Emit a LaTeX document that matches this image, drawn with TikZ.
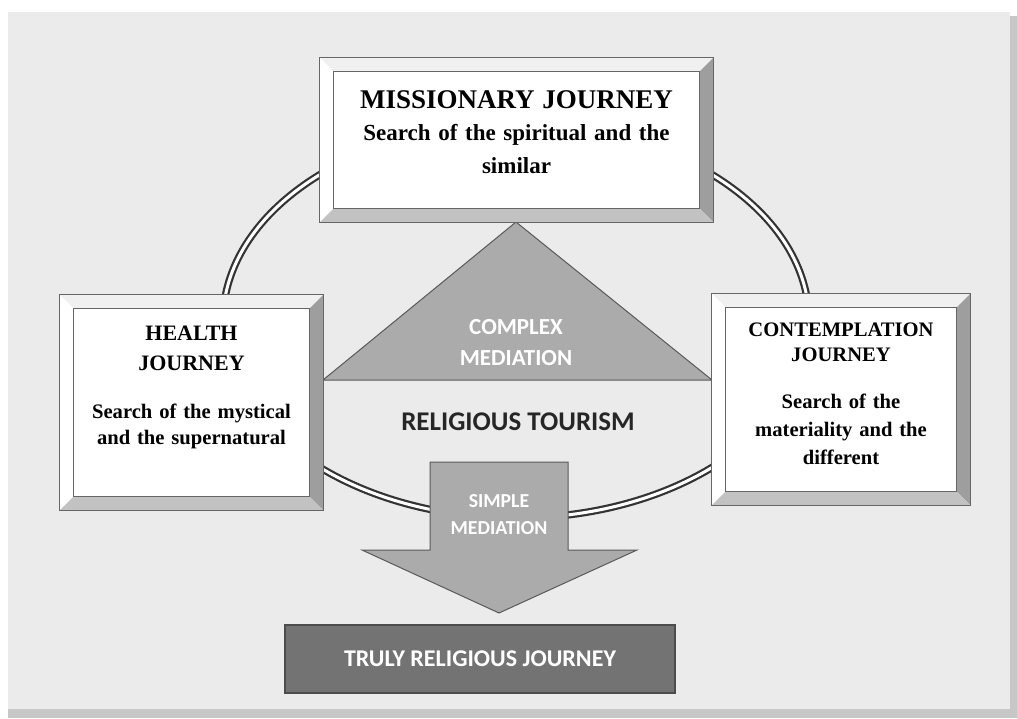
\documentclass[tikz,border=0pt]{standalone}
\usepackage{fontspec}
\setmainfont{Liberation Serif}
\newfontfamily\calib{Carlito}
\usetikzlibrary{positioning,calc}
\tikzstyle{journeybox} = [rectangle, fill=white, inner sep=0pt]
\tikzstyle{boxtext} = [align=center, inner sep=0pt, text width=180pt]
\tikzstyle{bevtop} = [fill=black!6]
\tikzstyle{bevleft} = [fill=white]
\tikzstyle{bevright} = [fill=black!38]
\tikzstyle{bevbottom} = [fill=black!24]
\tikzstyle{frameline} = [draw=black!60, line width=0.6pt]
\tikzstyle{ring} = [draw=black!80, line width=1.1pt, double=white, double distance=1.5pt]
\tikzstyle{mediation} = [fill=black!33, draw=black!65, line width=0.5pt]
\tikzstyle{medtext} = [align=center, inner sep=0pt, text=white]
\tikzstyle{trulybox} = [rectangle, minimum width=195pt, minimum height=34pt, fill=black!55, draw=black!70, line width=0.8pt, text=white, font=\calib\bfseries\fontsize{12}{14}\selectfont]
\newcommand{\bevelframe}[1]{
	\fill[bevtop] (#1.north west) -- (#1.north east) -- ([shift={(-7pt,-7pt)}]#1.north east) -- ([shift={(7pt,-7pt)}]#1.north west) -- cycle;
	\fill[bevleft] (#1.north west) -- ([shift={(7pt,-7pt)}]#1.north west) -- ([shift={(7pt,7pt)}]#1.south west) -- (#1.south west) -- cycle;
	\fill[bevright] (#1.north east) -- (#1.south east) -- ([shift={(-7pt,7pt)}]#1.south east) -- ([shift={(-7pt,-7pt)}]#1.north east) -- cycle;
	\fill[bevbottom] (#1.south west) -- (#1.south east) -- ([shift={(-7pt,7pt)}]#1.south east) -- ([shift={(7pt,7pt)}]#1.south west) -- cycle;
	\draw[frameline] ([shift={(7pt,-7pt)}]#1.north west) rectangle ([shift={(-7pt,7pt)}]#1.south east);
	\draw[frameline] (#1.north west) rectangle (#1.south east);
}
\begin{document}
\begin{tikzpicture}[x=0.5pt, y=-0.5pt]

	\useasboundingbox (0,0) rectangle (1017,718);
	\fill[white] (0,0) rectangle (1017,718);
	\fill[black!22] (8,16) rectangle (1017,718);
	\fill[black!8] (8,12) rectangle (1010,709);

	\draw[ring] (516,321) ellipse [x radius=146.5pt, y radius=98.5pt];

	\draw[mediation] (516,222) -- (712,380) -- (323,380) -- cycle;
	\node (complex)[medtext, font=\calib\bfseries\fontsize{11.5}{15.5}\selectfont] at (516,343) {COMPLEX\\MEDIATION};

	\node (tourism)[inner sep=0pt, font=\calib\bfseries\fontsize{13.5}{16}\selectfont, text=black!85] at (518,422) {RELIGIOUS TOURISM};

	\draw[mediation] (430,462) -- (568,462) -- (568,550) -- (637,550) -- (499,613) -- (362,550) -- (430,550) -- cycle;
	\node (simple)[medtext, font=\calib\bfseries\fontsize{9.9}{13.5}\selectfont] at (499,515) {SIMPLE\\MEDIATION};

	\node (truly)[trulybox] at (480,659) {TRULY RELIGIOUS JOURNEY};

	\node (miss)[journeybox, minimum width=196.5pt, minimum height=82pt] at (516.5,140) {};
	\node (health)[journeybox, minimum width=131.5pt, minimum height=107.5pt] at (191.5,402.5) {};
	\node (contemp)[journeybox, minimum width=129pt, minimum height=105.5pt] at (841,399.5) {};

	\bevelframe{miss}
	\bevelframe{health}
	\bevelframe{contemp}

	\node (misstext)[boxtext, below=16.5pt of miss.north, font=\bfseries\fontsize{11.5}{16.5}\selectfont] {{\fontsize{13.5}{16}\selectfont MISSIONARY JOURNEY}\\[-0.5pt]Search of the spiritual and the\\similar};
	\node (healthtext)[boxtext, text width=120pt, below=15.5pt of health.north, font=\bfseries\fontsize{10.3}{13}\selectfont] {{\fontsize{11}{13}\selectfont HEALTH\\[2pt]JOURNEY}\\[11pt]Search of the mystical\\and the supernatural};
	\node (contemptext)[boxtext, text width=120pt, below=14.5pt of contemp.north, font=\bfseries\fontsize{10.3}{14}\selectfont] {{\fontsize{10.3}{13}\selectfont CONTEMPLATION\\[-1.5pt]JOURNEY}\\[9.5pt]Search of the\\materiality and the\\different};

\end{tikzpicture}
\end{document}
